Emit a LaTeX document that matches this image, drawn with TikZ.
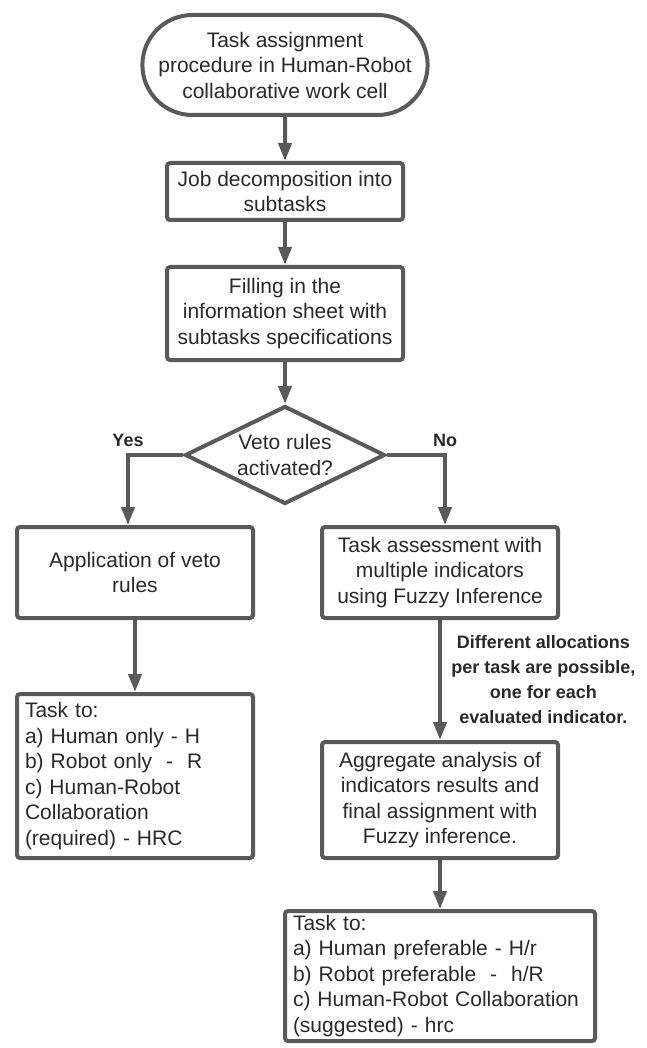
\documentclass[tikz,border=0pt]{standalone}
\usepackage{fontspec}
\setmainfont{Liberation Sans}
\usetikzlibrary{arrows.meta, positioning, shapes.geometric, shapes.misc}

\definecolor{linegray}{HTML}{5A5A5A}
\definecolor{inkgray}{HTML}{2A2A2A}

\newcommand{\boxfont}{\fontsize{21}{25.5}\selectfont}
\newcommand{\notefont}{\fontsize{18}{25}\selectfont\bfseries}

\begin{document}
\begin{tikzpicture}[
    x=1pt, y=-1pt,
    every node/.style={font=\boxfont, text=inkgray},
    terminal/.style={rounded rectangle, draw=linegray, line width=4pt, fill=white,
        minimum width=280pt, minimum height=100pt, align=center},
    procbox/.style={rectangle, draw=linegray, line width=4pt, fill=white,
        minimum width=236pt, align=center, rounded corners=3pt, inner sep=4pt},
    listbox/.style={procbox, align=left, inner xsep=8pt},
    decision/.style={diamond, draw=linegray, line width=4pt, fill=white, aspect=2,
        inner sep=0pt, minimum width=200pt, minimum height=98pt, align=center},
    branch/.style={font=\notefont},
    flow/.style={draw=linegray, line width=4pt, -{Triangle[length=18pt, width=13pt]}},
]
\useasboundingbox (0,0) rectangle (646,1048);

% main column
\node[terminal] (start) at (285,65)
    {Task assignment\\procedure in Human-Robot\\collaborative work cell};
\node[procbox, minimum height=57pt, below=44pt of start] (decomp)
    {Job decomposition into\\subtasks};
\node[procbox, minimum height=93pt, below=43pt of decomp] (sheet)
    {Filling in the\\information sheet with\\subtasks specifications};
\node[decision, below=42pt of sheet] (veto) {Veto rules\\activated?};

% veto branch
\node[procbox, minimum height=91pt] (apply) at (135,572.5)
    {Application of veto\\rules};
\node[listbox, text width=220pt, minimum height=164pt, below=72pt of apply] (hfin)
    {Task to:\\a) Human only - H\\b) Robot only\ \ -\ \ R\\c) Human-Robot\\
     Collaboration\\(required) - HRC};

% fuzzy branch
\node[procbox, minimum height=91pt] (assess) at (440,572.5)
    {Task assessment with\\multiple indicators\\using Fuzzy Inference};
\node[procbox, minimum height=116pt, below=120pt of assess] (aggr)
    {Aggregate analysis of\\indicators results and\\final assignment with\\
     Fuzzy inference.};
\node[listbox, text width=294pt, minimum height=130pt, below=49pt of aggr] (rfin)
    {Task to:\\a) Human preferable - H/r\\b) Robot preferable\ \ -\ \ h/R\\
     c) Human-Robot Collaboration\\(suggested) - hrc};

% connectors
\draw[flow] (start) -- (decomp);
\draw[flow] (decomp) -- (sheet);
\draw[flow] (sheet) -- (veto);
\draw[flow] (veto.west) -| node[branch, pos=0.5, above=3pt] {Yes}
    ([xshift=-7pt]apply.north);
\draw[flow] (veto.east) -| node[branch, pos=0.5, above=3pt] {No}
    ([xshift=5pt]assess.north);
\draw[flow] (apply) -- (hfin);
\draw[flow] (assess) --
    node[branch, right=6pt, align=center]
    {Different allocations\\per task are possible,\\one for each\\evaluated indicator.}
    (aggr);
\draw[flow] (aggr) -- (rfin);

\end{tikzpicture}
\end{document}
